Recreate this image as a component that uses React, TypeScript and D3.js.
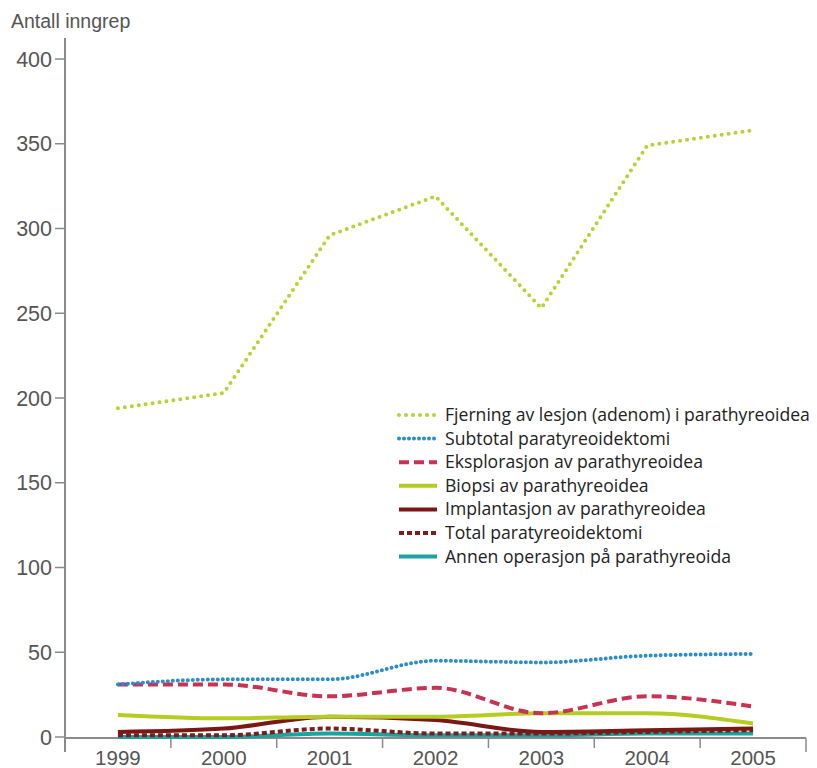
import React from 'react';
import * as d3 from 'd3';

const years = ['1999', '2000', '2001', '2002', '2003', '2004', '2005'];
const yTicks = [0, 50, 100, 150, 200, 250, 300, 350, 400];

const fjerning = [194, 203, 296, 319, 253, 349, 358];
const subtotal = [31, 34, 34, 45, 44, 48, 49];
const eksplorasjon = [31, 31, 24, 29, 14, 24, 18];
const biopsi = [13, 11, 12, 12, 14, 14, 8];
const implantasjon = [3, 5, 12, 10, 3, 4, 5];
const total = [1, 1, 5, 2, 2, 3, 4];
const annen = [0, 0, 2, 1, 1, 2, 2];

const seriesNames = [
  'Fjerning av lesjon (adenom) i parathyreoidea',
  'Subtotal paratyreoidektomi',
  'Eksplorasjon av parathyreoidea',
  'Biopsi av parathyreoidea',
  'Implantasjon av parathyreoidea',
  'Total paratyreoidektomi',
  'Annen operasjon på parathyreoida',
];

const styles = [
  { color: '#b7d234', dash: '0 7', cap: 'round', w: 4 },
  { color: '#2a8dcc', dash: '0 5', cap: 'round', w: 4 },
  { color: '#c83353', dash: '10 5', cap: 'butt', w: 4 },
  { color: '#b5cd22', dash: null, cap: 'butt', w: 4 },
  { color: '#7b1714', dash: null, cap: 'butt', w: 4 },
  { color: '#7d1c1a', dash: '5 3', cap: 'butt', w: 4 },
  { color: '#1aa39f', dash: null, cap: 'butt', w: 4 },
];

const allSeries = [fjerning, subtotal, eksplorasjon, biopsi, implantasjon, total, annen];
const drawOrder = [6, 5, 4, 3, 2, 1, 0];

export default function App() {
  const width = 817;
  const height = 768;
  const left = 65;
  const right = 806;
  const x = d3.scaleBand().domain(years).range([left, right]);
  const y = d3.scaleLinear().domain([0, 400]).range([737, 59]);
  const cx = (i: number) => (x(years[i]) as number) + x.bandwidth() / 2;
  const straight = d3.line<number>().x((_, i) => cx(i)).y((d) => y(d));
  const smooth = d3
    .line<number>()
    .x((_, i) => cx(i))
    .y((d) => y(d))
    .curve(d3.curveMonotoneX);

  const axisFont = '"Liberation Sans", Arial, sans-serif';
  const legendFont = '"Open Sans", sans-serif';
  const boundaries = years.map((yr) => x(yr) as number).concat([right]);

  return (
    <svg width={width} height={height} style={{ position: 'absolute', left: 0, top: 0 }}>
      <rect width={width} height={height} fill="#fff" />
      <text x={11} y={28} fontFamily={axisFont} fontSize={19.5} fill="#555">
        Antall inngrep
      </text>
      {/* y axis */}
      <line x1={left} x2={left} y1={38} y2={752} stroke="#8a8a8a" strokeWidth={2} />
      {yTicks.map((t) => (
        <g key={t}>
          <line x1={55} x2={left} y1={y(t)} y2={y(t)} stroke="#8a8a8a" strokeWidth={1.5} />
          <text x={52} y={y(t) + 7.5} textAnchor="end" fontFamily={axisFont} fontSize={21.5} fill="#555">
            {t}
          </text>
        </g>
      ))}
      {/* x axis */}
      <line x1={left} x2={right} y1={738} y2={738} stroke="#8a8a8a" strokeWidth={2} />
      {boundaries.map((b, i) => (
        <line key={i} x1={b} x2={b} y1={738} y2={i === boundaries.length - 1 ? 752 : 748} stroke="#8a8a8a" strokeWidth={1.5} />
      ))}
      {years.map((yr, i) => (
        <text key={yr} x={cx(i)} y={765} textAnchor="middle" fontFamily={axisFont} fontSize={20.5} fill="#555">
          {yr}
        </text>
      ))}
      {drawOrder.map((k) => (
        <path
          key={k}
          d={(k === 0 ? straight : smooth)(allSeries[k]) || ''}
          fill="none"
          stroke={styles[k].color}
          strokeWidth={styles[k].w}
          strokeDasharray={styles[k].dash || undefined}
          strokeLinecap={styles[k].cap as any}
        />
      ))}
      {/* legend */}
      {seriesNames.map((name, i) => {
        const ly = 415 + i * 23.6;
        return (
          <g key={name}>
            <line
              x1={399}
              x2={437}
              y1={ly}
              y2={ly}
              stroke={styles[i].color}
              strokeWidth={styles[i].w}
              strokeDasharray={styles[i].dash || undefined}
              strokeLinecap={styles[i].cap as any}
            />
            <text x={445} y={ly + 6} fontFamily={legendFont} fontSize={17.6} fill="#222">
              {name}
            </text>
          </g>
        );
      })}
    </svg>
  );
}
